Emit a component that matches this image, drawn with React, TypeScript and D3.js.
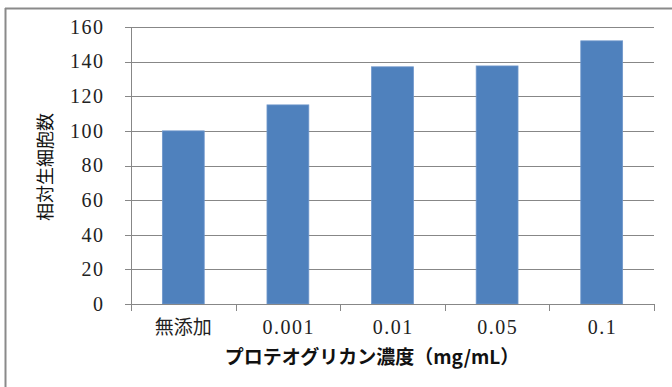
import React from "react";
import * as d3 from "d3";

const categories = ["無添加", "0.001", "0.01", "0.05", "0.1"];
const values = [100, 115, 137, 137.5, 152];
const yTicks = [0, 20, 40, 60, 80, 100, 120, 140, 160];
const yTitle = "相対生細胞数";
const xTitle = "プロテオグリカン濃度（mg/mL）";

const W = 672;
const H = 387;
const plot = { left: 131, right: 654, top: 27, bottom: 304 };
const numFont = "'Liberation Serif', 'DejaVu Serif', serif";
const jpFont = "'Noto Sans CJK JP', sans-serif";

export default function App() {
  const x = d3
    .scaleBand<string>()
    .domain(categories)
    .range([plot.left, plot.right])
    .paddingInner(0.6)
    .paddingOuter(0.3);
  const band = d3.scaleBand<string>().domain(categories).range([plot.left, plot.right]);
  const y = d3.scaleLinear().domain([0, 160]).range([plot.bottom, plot.top]);
  const gridColor = "#878787";

  return (
    <svg
      width={W}
      height={H}
      style={{ position: "absolute", left: 0, top: 0, background: "#fff" }}
    >
      <rect x={0} y={0} width={W} height={H} fill="#fff" />
      {/* outer border */}
      <line x1={5.5} y1={8} x2={5.5} y2={H} stroke="#8a8a8a" strokeWidth={2} />
      <line x1={5} y1={8.5} x2={W} y2={8.5} stroke="#8a8a8a" strokeWidth={2} />

      {/* gridlines */}
      {yTicks.slice(1).map((t) => (
        <line
          key={"g" + t}
          x1={plot.left}
          x2={plot.right}
          y1={Math.round(y(t)) + 0.5}
          y2={Math.round(y(t)) + 0.5}
          stroke={gridColor}
          strokeWidth={1}
        />
      ))}

      {/* bars */}
      {categories.map((c, i) => (
        <rect
          key={c}
          x={x(c)}
          y={y(values[i])}
          width={x.bandwidth()}
          height={plot.bottom - y(values[i])}
          fill="#4F81BD"
          stroke="#6f97cb"
          strokeWidth={0.8}
        />
      ))}

      {/* y axis */}
      <line
        x1={plot.left + 0.5}
        x2={plot.left + 0.5}
        y1={plot.top}
        y2={plot.bottom}
        stroke={gridColor}
      />
      {yTicks.map((t) => (
        <g key={"y" + t}>
          <line
            x1={plot.left - 6}
            x2={plot.left}
            y1={Math.round(y(t)) + 0.5}
            y2={Math.round(y(t)) + 0.5}
            stroke={gridColor}
          />
          <text
            x={104.5}
            y={y(t)}
            dy="0.34em"
            textAnchor="end"
            fontFamily={numFont}
            fontSize={20}
            letterSpacing={1.5}
            fill="#222"
          >
            {t}
          </text>
        </g>
      ))}

      {/* x axis */}
      <line
        x1={plot.left}
        x2={plot.right}
        y1={plot.bottom + 0.5}
        y2={plot.bottom + 0.5}
        stroke={gridColor}
      />
      {[...categories.map((c) => band(c) as number), plot.right].map((px, i) => (
        <line
          key={"xt" + i}
          x1={Math.round(px) + 0.5}
          x2={Math.round(px) + 0.5}
          y1={plot.bottom}
          y2={plot.bottom + 7}
          stroke={gridColor}
        />
      ))}
      {categories.map((c, i) => (
        <text
          key={"xl" + c}
          x={(band(c) as number) + band.bandwidth() / 2 + (i === 0 ? 0 : 0.75)}
          y={334}
          textAnchor="middle"
          fontFamily={i === 0 ? jpFont : numFont}
          fontSize={i === 0 ? 19 : 20}
          letterSpacing={i === 0 ? 0 : 1.5}
          fill="#222"
        >
          {c}
        </text>
      ))}

      {/* titles */}
      <text
        x={372}
        y={364}
        textAnchor="middle"
        fontFamily={jpFont}
        fontSize={19}
        fontWeight="bold"
        fill="#111"
      >
        {xTitle}
      </text>
      <text
        transform={`translate(52,167) rotate(-90)`}
        textAnchor="middle"
        fontFamily={jpFont}
        fontSize={18}
        fill="#111"
      >
        {yTitle}
      </text>
    </svg>
  );
}
